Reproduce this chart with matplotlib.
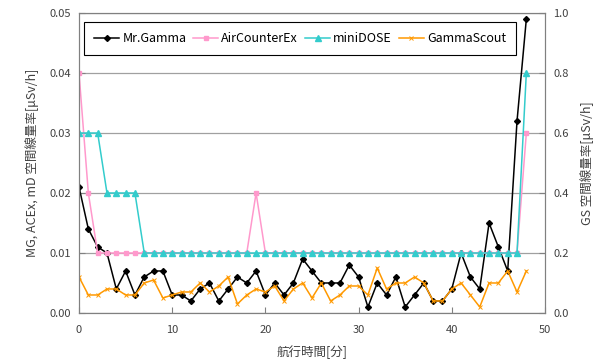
import matplotlib
matplotlib.use('agg')
import matplotlib.pyplot as plt
import numpy as np

plt.rcParams['font.family'] = ['Noto Sans CJK JP', 'DejaVu Sans']

# 航行時間[分]
t = list(range(49))

# Mr.Gamma, AirCounterEx, miniDOSE (左軸)
mr_gamma = [0.021, 0.014, 0.011, 0.010, 0.004, 0.007, 0.003, 0.006, 0.007, 0.007,
            0.003, 0.003, 0.002, 0.004, 0.005, 0.002, 0.004, 0.006, 0.005, 0.007,
            0.003, 0.005, 0.003, 0.005, 0.009, 0.007, 0.005, 0.005, 0.005, 0.008,
            0.006, 0.001, 0.005, 0.003, 0.006, 0.001, 0.003, 0.005, 0.002, 0.002,
            0.004, 0.010, 0.006, 0.004, 0.015, 0.011, 0.007, 0.032, 0.049]
air_counter = [0.04, 0.02] + [0.01] * 17 + [0.02] + [0.01] * 28 + [0.03]
mini_dose = [0.03] * 3 + [0.02] * 4 + [0.01] * 41 + [0.04]

# GammaScout (右軸)
gamma_scout = [0.12, 0.06, 0.06, 0.08, 0.08, 0.06, 0.06, 0.10, 0.11, 0.05,
               0.06, 0.07, 0.07, 0.10, 0.07, 0.09, 0.12, 0.03, 0.06, 0.08,
               0.07, 0.09, 0.04, 0.08, 0.10, 0.05, 0.10, 0.04, 0.06, 0.09,
               0.09, 0.06, 0.15, 0.08, 0.10, 0.10, 0.12, 0.10, 0.04, 0.04,
               0.08, 0.10, 0.06, 0.02, 0.10, 0.10, 0.14, 0.07, 0.14]

fig = plt.figure(figsize=(6.06, 3.62), dpi=100)
ax = fig.add_subplot(111)
fig.subplots_adjust(left=0.1304, right=0.8993, top=0.964, bottom=0.1354)
ax2 = ax.twinx()

l1, = ax.plot(t, mr_gamma, color='black', lw=1.1, marker='D', ms=3, label='Mr.Gamma')
l2, = ax.plot(t, air_counter, color='#FF99CC', lw=1.1, marker='s', ms=3.3, label='AirCounterEx')
l3, = ax.plot(t, mini_dose, color='#33CCCC', lw=1.1, marker='^', ms=4, label='miniDOSE')
l4, = ax2.plot(t, gamma_scout, color='#FF9900', lw=1.1, marker='x', ms=3.3, mew=0.7, label='GammaScout')

ax.set_xlim(0, 50)
ax.set_ylim(0, 0.05)
ax2.set_ylim(0, 1.0)
ax.set_xticks(np.arange(0, 51, 10))
ax.set_yticks(np.arange(0, 0.051, 0.01))
ax2.set_yticks(np.arange(0, 1.01, 0.2))
ax.set_yticklabels(['%.2f' % v for v in np.arange(0, 0.051, 0.01)])
ax2.set_yticklabels(['%.1f' % v for v in np.arange(0, 1.01, 0.2)])

ax.grid(axis='y', color='#a0a0a0', lw=0.9)
ax.set_axisbelow(True)

for a in (ax, ax2):
    for s in a.spines.values():
        s.set_color('#808080')
    a.tick_params(direction='in', length=4, color='#808080', labelsize=8, labelcolor='#404040')
ax.tick_params(axis='x', pad=9)
ax.tick_params(axis='y', pad=6)
ax2.tick_params(axis='y', pad=6)

ax.set_xlabel('航行時間[分]', fontsize=9, color='#404040', labelpad=7)
ax.set_ylabel('MG, ACEx, mD 空間線量率[μSv/h]', fontsize=9, color='#404040', labelpad=7)
ax2.set_ylabel('GS 空間線量率[μSv/h]', fontsize=9, color='#404040', labelpad=8)

leg = ax2.legend(handles=[l1, l2, l3, l4], loc='lower left',
                 bbox_to_anchor=(0.011, 0.86, 0.927, 0.108), mode='expand',
                 ncol=4, borderaxespad=0, fancybox=False, edgecolor='black', framealpha=1,
                 fontsize=9, handlelength=2.0, handletextpad=0.25, borderpad=0.8)
leg.get_frame().set_linewidth(0.8)

fig.savefig('out.png', dpi=100)
